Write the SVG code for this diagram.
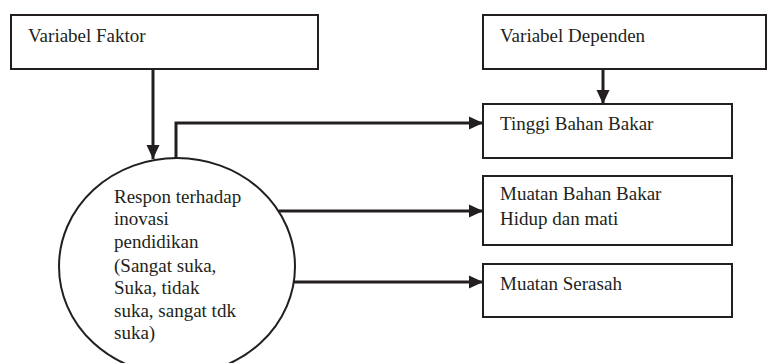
<svg xmlns="http://www.w3.org/2000/svg" width="767" height="363" viewBox="0 0 767 363">
<style>
.box{fill:#fff;stroke:#231f20;stroke-width:2}
.t{font-family:"Liberation Serif","Times New Roman",Times,"DejaVu Serif",serif;font-size:19px;fill:#231f20}
.c{fill:none;stroke:#231f20;stroke-width:3}
</style>
<defs>
<marker id="ah" markerUnits="userSpaceOnUse" markerWidth="14" markerHeight="14" refX="14" refY="7" orient="auto">
<path d="M0,0.5 L14,7 L0,13.5 Z" fill="#231f20"/>
</marker>
</defs>
<rect width="767" height="363" fill="#fff"/>
<g id="connectors">
<path class="c" d="M153,69 V159" marker-end="url(#ah)"/>
<path class="c" d="M176,158 V123 H483" marker-end="url(#ah)"/>
<path class="c" d="M603,69 V104" marker-end="url(#ah)"/>
<path class="c" d="M279,211 H483" marker-end="url(#ah)"/>
<path class="c" d="M292,282 H483" marker-end="url(#ah)"/>
</g>
<g id="faktor">
<rect class="box" x="11" y="15" width="307" height="54"/>
<text class="t" x="28" y="42">Variabel Faktor</text>
</g>
<g id="dependen">
<rect class="box" x="483" y="15" width="283" height="54"/>
<text class="t" x="500" y="42">Variabel Dependen</text>
</g>
<g id="tinggi">
<rect class="box" x="483" y="104" width="249" height="54"/>
<text class="t" x="500" y="130">Tinggi Bahan Bakar</text>
</g>
<g id="muatan">
<rect class="box" x="483" y="176" width="249" height="69"/>
<text class="t" x="500" y="200">Muatan Bahan Bakar</text>
<text class="t" x="500" y="225">Hidup dan mati</text>
</g>
<g id="serasah">
<rect class="box" x="483" y="264" width="249" height="53"/>
<text class="t" x="500" y="290">Muatan Serasah</text>
</g>
<g id="respon">
<ellipse cx="177" cy="266.4" rx="118" ry="108.4" fill="#fff" stroke="#231f20" stroke-width="2"/>
<text class="t" x="114" y="203">Respon terhadap</text>
<text class="t" x="114" y="225">inovasi</text>
<text class="t" x="114" y="248">pendidikan</text>
<text class="t" x="114" y="272">(Sangat suka,</text>
<text class="t" x="114" y="294">Suka, tidak</text>
<text class="t" x="114" y="317">suka, sangat tdk</text>
<text class="t" x="114" y="339">suka)</text>
</g>
</svg>
